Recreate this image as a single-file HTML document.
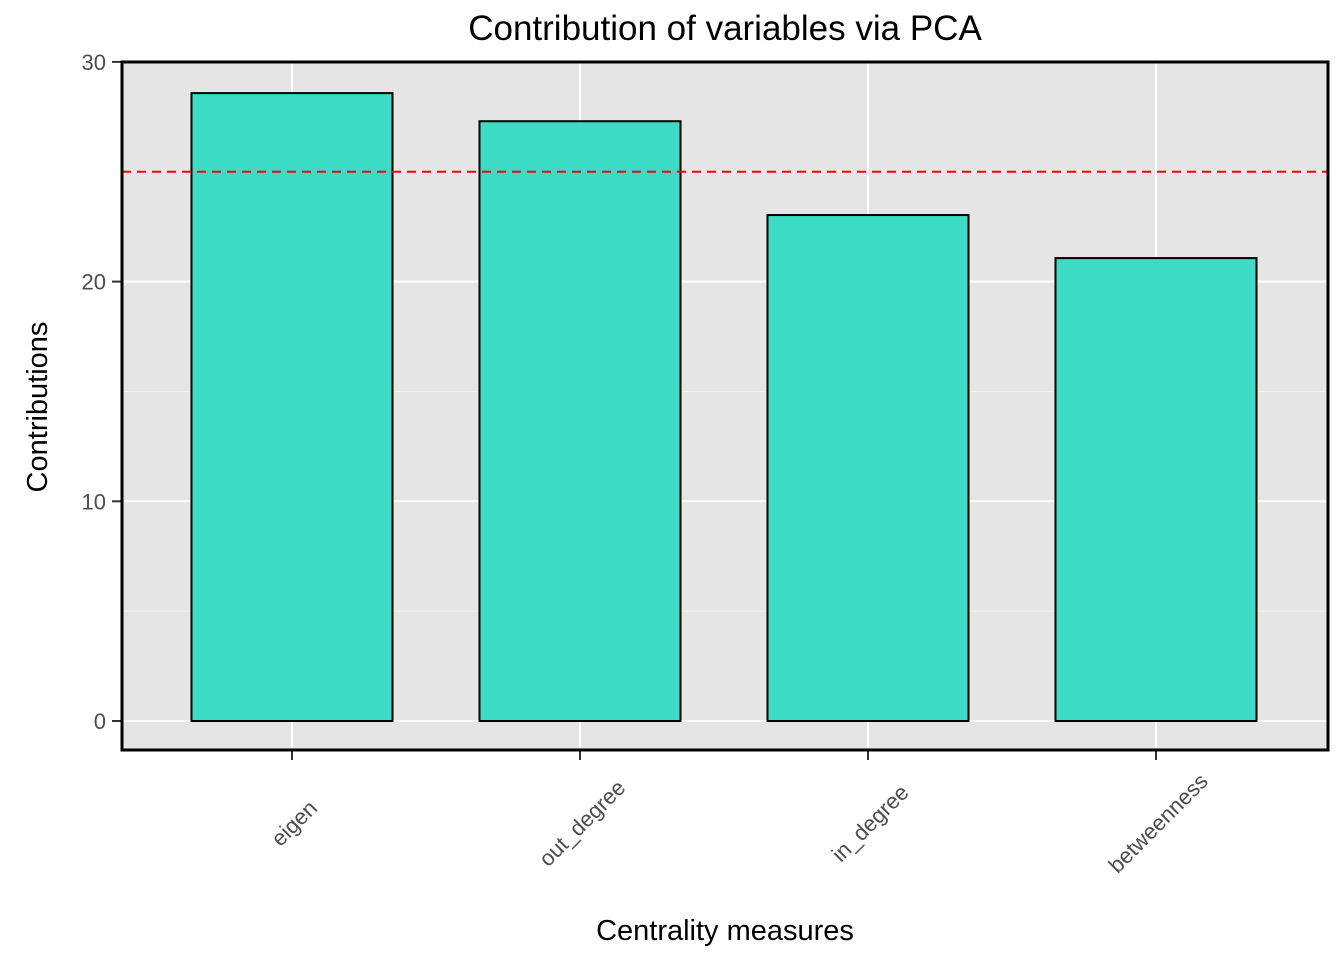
<!DOCTYPE html>
<html><head><meta charset="utf-8"><style>
body{margin:0;background:#fff;}
svg{display:block;font-family:"Liberation Sans",Arial,sans-serif;}
</style></head><body>
<svg id="chart" width="1344" height="960">
<rect x="0" y="0" width="1344" height="960" fill="#fff"/>
<text x="725" y="40" font-size="35" text-anchor="middle" fill="#000">Contribution of variables via PCA</text>
<text x="725" y="940" font-size="29" text-anchor="middle" fill="#000">Centrality measures</text>
<text transform="translate(47,407) rotate(-90)" font-size="29" text-anchor="middle" fill="#000">Contributions</text>
<g id="panel"></g>
</svg>
<script>
const categories=["eigen","out_degree","in_degree","betweenness"];
const contributions=[28.58,27.3,23.03,21.07];
const yTicks=[0,10,20,30];
const refLine=[25];

const L=122,R=1328,T=62,B=750;
const y0=721,yPer=21.97;
function yScale(v){return y0-v*yPer;}
const step=288, x0=292;
function xScale(i){return x0+i*step;}
const bw=201;
const NS="http://www.w3.org/2000/svg";
const g=document.getElementById('panel');
function el(tag,attrs,parent){const e=document.createElementNS(NS,tag);for(const k in attrs)e.setAttribute(k,attrs[k]);(parent||g).appendChild(e);return e;}

const bg=el('rect',{x:L,y:T,width:R-L,height:B-T,fill:'#e5e5e5'});


for(let i=0;i<yTicks.length-1;i++){
  const v=(yTicks[i]+yTicks[i+1])/2;
  const m=el('line',{x1:L,x2:R,y1:yScale(v),y2:yScale(v),stroke:'#f2f2f2','stroke-width':1});
  
  
}
yTicks.forEach(v=>{
  const y=yScale(v);
  const gl=el('line',{x1:L,x2:R,y1:y,y2:y,stroke:'#fff','stroke-width':2});
  
  
  el('line',{x1:L-10,x2:L,y1:y,y2:y,stroke:'#333','stroke-width':2});
  const t=el('text',{x:L-16,y:y+8,'font-size':22,'text-anchor':'end',fill:'#4d4d4d'});
  t.textContent=v;
  
  
});
categories.forEach((c,i)=>{
  const x=xScale(i);
  const gl=el('line',{x1:x,x2:x,y1:T,y2:B,stroke:'#fff','stroke-width':2});
  
  
});
categories.forEach((c,i)=>{
  const x=xScale(i),v=contributions[i];
  const r=el('rect',{x:x-bw/2,y:yScale(v),width:bw,height:yScale(0)-yScale(v),fill:'#3bdbc4',stroke:'#000','stroke-width':2});
  
  
  el('line',{x1:x,x2:x,y1:B,y2:B+10,stroke:'#333','stroke-width':2});
  const t=el('text',{transform:`translate(${x+2},${823}) rotate(-45)`,'font-size':22,'text-anchor':'middle',dy:'0.35em',fill:'#4d4d4d'});
  t.textContent=c;
  
  
});
refLine.forEach(v=>{
  const d=el('line',{x1:L,x2:R,y1:yScale(v),y2:yScale(v),stroke:'#ff0000','stroke-width':2,'stroke-dasharray':'9,6'});
  
  
});
const br=el('rect',{x:L,y:T,width:R-L,height:B-T,fill:'none',stroke:'#000','stroke-width':3});


</script>
</body></html>
